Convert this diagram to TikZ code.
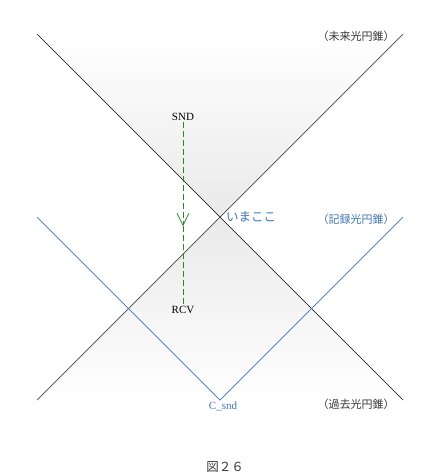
\documentclass[tikz,border=0pt]{standalone}
\usepackage{fontspec}
\setmainfont{Liberation Serif}
\newfontfamily\jpfont{Noto Sans CJK JP}
\usetikzlibrary{arrows.meta}
\definecolor{coneblue}{RGB}{62,116,178}
\definecolor{signalgreen}{RGB}{40,135,40}
\definecolor{conegray}{RGB}{70,70,70}
\definecolor{captiongray}{RGB}{55,55,55}

\begin{document}
\begin{tikzpicture}[x=1pt,y=-1pt]
	\tikzstyle{conetext}=[font=\jpfont\fontsize{11}{13}\selectfont,inner sep=0pt]
	\tikzstyle{event}=[font=\fontsize{11}{13}\selectfont,inner sep=1pt]
	\tikzstyle{signal}=[signalgreen,line width=0.7pt,dash pattern=on 6pt off 3pt]
	\tikzstyle{coneline}=[line width=0.7pt]
	\useasboundingbox (0,0) rectangle (440,475);
	
	\coordinate (now) at (220,217);
	\coordinate (ftl) at (37,34);
	\coordinate (ftr) at (403,34);
	\coordinate (pbl) at (37,400);
	\coordinate (pbr) at (403,400);
	\coordinate (rtl) at (37,217);
	\coordinate (rtr) at (403,217);
	\coordinate (csnd) at (220,400);
	
	\shade[top color=white,bottom color=gray!17] (ftl) -- (ftr) -- (now) -- cycle;
	\shade[top color=gray!17,bottom color=white] (now) -- (pbr) -- (pbl) -- cycle;
	
	\draw[coneline,black] (ftl) -- (pbr);
	\draw[coneline,conegray] (pbl) -- (ftr);
	\draw[coneline,coneblue] (rtl) -- (csnd) -- (rtr);
	
	\node[event] (snd) at (183,117) {SND};
	\node[event] (rcv) at (183,310) {RCV};
	\coordinate (mid) at (183,226);
	\draw[signal,-{Straight Barb[length=12pt,width=12pt]}] (snd) -- (mid);
	\draw[signal] (mid) -- (rcv);
	
	\node[event,text=coneblue] (csndtext) at (223,406) {C\_snd};
	\node[conetext,text=coneblue,font=\jpfont\fontsize{12.5}{14}\selectfont] (here) at (251,217) {いまここ};
	
	\node[conetext,text=captiongray] (future) at (356,36) {（未来光円錐）};
	\node[conetext,text=coneblue] (record) at (356,219) {（記録光円錐）};
	\node[conetext,text=captiongray] (past) at (356,404) {（過去光円錐）};
	
	\node[font=\jpfont\fontsize{12.5}{14}\selectfont,text=captiongray] (caption) at (225,467) {図２６};
\end{tikzpicture}
\end{document}
